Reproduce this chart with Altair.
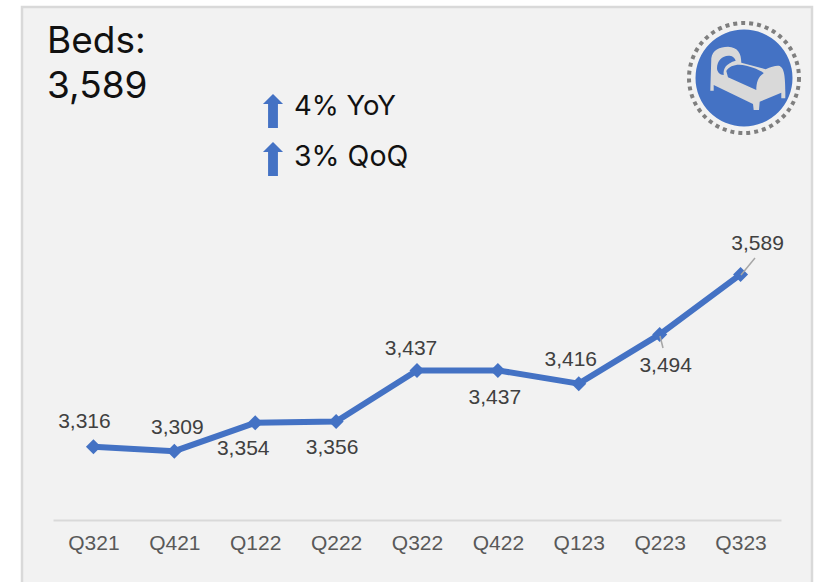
import altair as alt
import pandas as pd

# Beds per quarter
quarters = ["Q321", "Q421", "Q122", "Q222", "Q322", "Q422", "Q123", "Q223", "Q323"]
beds = [3316, 3309, 3354, 3356, 3437, 3437, 3416, 3494, 3589]

# Label nudges from each point, in pixels
label_dx = [-9, 3, -12, -4, -6, -3, -8, 6, 17]
label_dy = [-25, -23, 26, 26, -21, 28, -24, 32, -30]

BLUE = "#4472c4"
PANEL = "#f2f2f2"
LEFT, TOP = 53, 15
PLOT_W, PLOT_H = 728, 505
CX, CY = 744, 78


def px(x):
    return alt.value(x - LEFT)


def py(y):
    return alt.value(y - TOP)


one = pd.DataFrame({"n": [0]})
df = pd.DataFrame({"quarter": quarters, "beds": beds})

x_enc = alt.X(
    "quarter:N",
    sort=quarters,
    scale=alt.Scale(type="point", padding=0.5),
    axis=alt.Axis(
        title=None,
        labelAngle=0,
        labelFontSize=21,
        labelFont="Liberation Sans",
        labelColor="#595959",
        labelPadding=12,
        ticks=False,
        grid=False,
        domainColor="#d9d9d9",
        domainWidth=2,
        zindex=1,
    ),
)
y_enc = alt.Y("beds:Q", scale=alt.Scale(domain=[3200, 4000]), axis=None)

# Panel behind everything
panel = alt.Chart(one).mark_rect(fill=PANEL, stroke="#d9d9d9", strokeWidth=2.5).encode(
    x=px(22), x2=px(812), y=py(7), y2=py(640)
)


def static_text(s, x, y, size, font="Inter", color="#111111"):
    return alt.Chart(one).mark_text(
        text=s, align="left", baseline="alphabetic", font=font, fontSize=size, color=color
    ).encode(x=px(x), y=py(y))


# Up arrow, centred on its anchor and spanning -1..1 vertically
ARROW = "M0,-1 L0.59,-0.41 L0.29,-0.41 L0.29,1 L-0.29,1 L-0.29,-0.41 L-0.59,-0.41 Z"


def arrow(x, y):
    return alt.Chart(one).mark_point(
        shape=ARROW, size=1156, filled=True, fill=BLUE, stroke=None, opacity=1
    ).encode(x=px(x), y=py(y))


# Bed pictogram, drawn in pixels around the badge centre (size=4 keeps a 1:1 path scale)
BED = (
    "M-32.7,12.7 L-31.7,-19.7 C-30.7,-28 -23.3,-31.3 -15,-31.3 C-5,-30.7 -1.7,-24.7 -1.7,-15.3 "
    "L22.7,-8.7 C28.3,-11.3 33.3,-12.7 36.7,-12 C40.7,-9.7 42.7,-4.7 42.3,20.3 L38.3,20.3 L38.3,14.7 "
    "L16.7,23.7 L16,32 L10.7,32 L10,26 L-29.3,7 L-29.3,12.7 Z"
)
BED_HOLE = (
    "M-26,-9.7 C-26,-18 -20,-23 -13.3,-22.3 C-10,-22 -8,-19.7 -7.3,-17.3 "
    "C-16.7,-14.7 -20,-9.7 -19.3,-3 C-23.3,-3 -26,-6.3 -26,-9.7 Z"
)
BED_BLANKET = (
    "M-16.7,-7 C-13.3,-13 -5,-14.7 3.3,-12.3 C13.3,-9.7 20,-6.3 20.7,-4.7 "
    "C15,-1.3 13.3,5.3 13.3,12 L-15,-0.7 Z"
)


def badge_path(path, color):
    return alt.Chart(one).mark_point(
        shape=path, size=4, filled=True, fill=color, stroke=None, opacity=1
    ).encode(x=px(CX - 1), y=py(CY))


ring = alt.Chart(one).mark_point(
    shape="circle", size=110**2, filled=False, stroke="#7f7f7f", strokeWidth=4,
    strokeDash=[4, 4], opacity=1,
).encode(x=px(CX), y=py(CY))
disc = alt.Chart(one).mark_point(
    shape="circle", size=97**2, filled=True, fill=BLUE, stroke=None, opacity=1
).encode(x=px(CX), y=py(CY))

# Leader lines for the two labels sitting away from their points
leaders = [
    alt.Chart(one).mark_rule(color="#a6a6a6", strokeWidth=1.5).encode(
        x=px(x1), x2=px(x2), y=py(y1), y2=py(y2)
    )
    for x1, y1, x2, y2 in [(741, 275, 755, 258), (660, 336, 663, 348)]
]

line = alt.Chart(df).mark_line(color=BLUE, strokeWidth=6).encode(x=x_enc, y=y_enc)
points = alt.Chart(df).mark_point(
    shape="diamond", size=225, filled=True, fill=BLUE, stroke=None, opacity=1
).encode(x=x_enc, y=y_enc)

labels = [
    alt.Chart(df.iloc[[i]]).mark_text(
        dx=label_dx[i], dy=label_dy[i], font="Liberation Sans", fontSize=21, color="#404040"
    ).encode(x=x_enc, y=y_enc, text=alt.Text("beds:Q", format=","))
    for i in range(len(quarters))
]

chart = alt.layer(
    panel,
    line,
    points,
    *leaders,
    *labels,
    static_text("Beds:", 47, 53, 37),
    static_text("3,589", 47, 98, 37),
    arrow(273, 111),
    arrow(273, 159),
    static_text("4% YoY", 294, 115, 27.5),
    static_text("3% QoQ", 294, 166, 28.5),
    ring,
    disc,
    badge_path(BED, "#d9d9d9"),
    badge_path(BED_HOLE, BLUE),
    badge_path(BED_BLANKET, BLUE),
).properties(
    width=PLOT_W,
    height=PLOT_H,
    padding={"left": LEFT, "top": TOP, "right": 818 - LEFT - PLOT_W, "bottom": 582 - TOP - PLOT_H},
    autosize=alt.AutoSizeParams(type="none"),
    background="white",
).configure_view(stroke=None)

chart.save("out.html", embed_options={"renderer": "svg", "actions": False})
